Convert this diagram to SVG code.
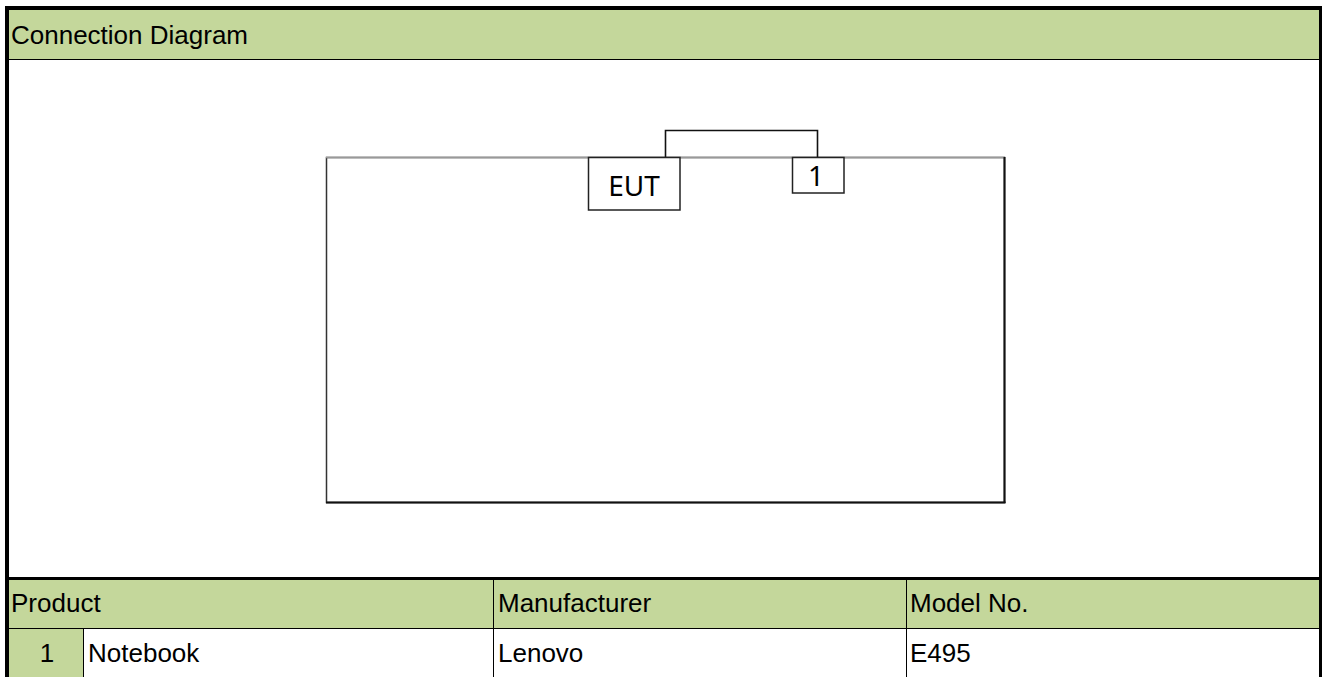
<svg xmlns="http://www.w3.org/2000/svg" width="1322" height="677" viewBox="0 0 1322 677">
  <style>
    .cell { font-family: "Liberation Sans", Arial, sans-serif; font-size: 26px; fill: #000; }
    .lbl { font-family: "Noto Sans", "Open Sans", sans-serif; font-size: 28px; fill: #000; }
    .green { fill: #C4D79B; }
    .thin { stroke: #000; stroke-width: 1; fill: none; }
    .box { fill: #fff; stroke: #222; stroke-width: 1.5; }
    .wire { stroke: #111; stroke-width: 1.6; fill: none; }
  </style>
  <rect x="0" y="0" width="1322" height="677" fill="#fff"/>

  <g id="header">
    <rect class="green" x="9" y="10" width="1310" height="49"/>
    <line class="thin" x1="9" y1="59.5" x2="1319" y2="59.5"/>
    <text class="cell" x="11" y="44">Connection Diagram</text>
  </g>

  <g id="setup-frame">
    <rect x="326.5" y="157.5" width="678" height="345" fill="#fff" stroke="#333" stroke-width="1.5"/>
    <line x1="326" y1="157.5" x2="1005" y2="157.5" stroke="#999" stroke-width="1.5"/>
    <line x1="1004.5" y1="157" x2="1004.5" y2="503" stroke="#111" stroke-width="2"/>
    <line x1="326" y1="502.5" x2="1005.5" y2="502.5" stroke="#111" stroke-width="2"/>
  </g>

  <g id="connectors">
    <path class="wire" d="M665.5,157 V130.5 H817.5 V157"/>
  </g>

  <g id="node-eut">
    <rect class="box" x="588.5" y="157.5" width="91.5" height="52.5"/>
    <text class="lbl" x="634" y="196" text-anchor="middle">EUT</text>
  </g>

  <g id="node-1">
    <rect class="box" x="792.5" y="157.5" width="51.5" height="35.5"/>
    <text class="lbl" x="816" y="186" text-anchor="middle">1</text>
  </g>

  <g id="table">
    <line x1="9" y1="578.5" x2="1319" y2="578.5" stroke="#000" stroke-width="3"/>
    <rect class="green" x="9" y="580" width="1310" height="48"/>
    <rect class="green" x="9" y="629" width="74" height="48"/>
    <line class="thin" x1="9" y1="628.5" x2="1319" y2="628.5"/>
    <line class="thin" x1="83.5" y1="629" x2="83.5" y2="677"/>
    <line class="thin" x1="493.5" y1="580" x2="493.5" y2="677"/>
    <line class="thin" x1="906.5" y1="580" x2="906.5" y2="677"/>
    <text class="cell" x="11" y="612">Product</text>
    <text class="cell" x="498" y="612">Manufacturer</text>
    <text class="cell" x="910" y="612">Model No.</text>
    <text class="cell" x="47" y="662" text-anchor="middle">1</text>
    <text class="cell" x="88" y="662">Notebook</text>
    <text class="cell" x="498" y="662">Lenovo</text>
    <text class="cell" x="910" y="662">E495</text>
  </g>

  <g id="border">
    <path d="M7,677 V8 H1321 V677" fill="none" stroke="#000" stroke-width="4"/>
  </g>
</svg>
